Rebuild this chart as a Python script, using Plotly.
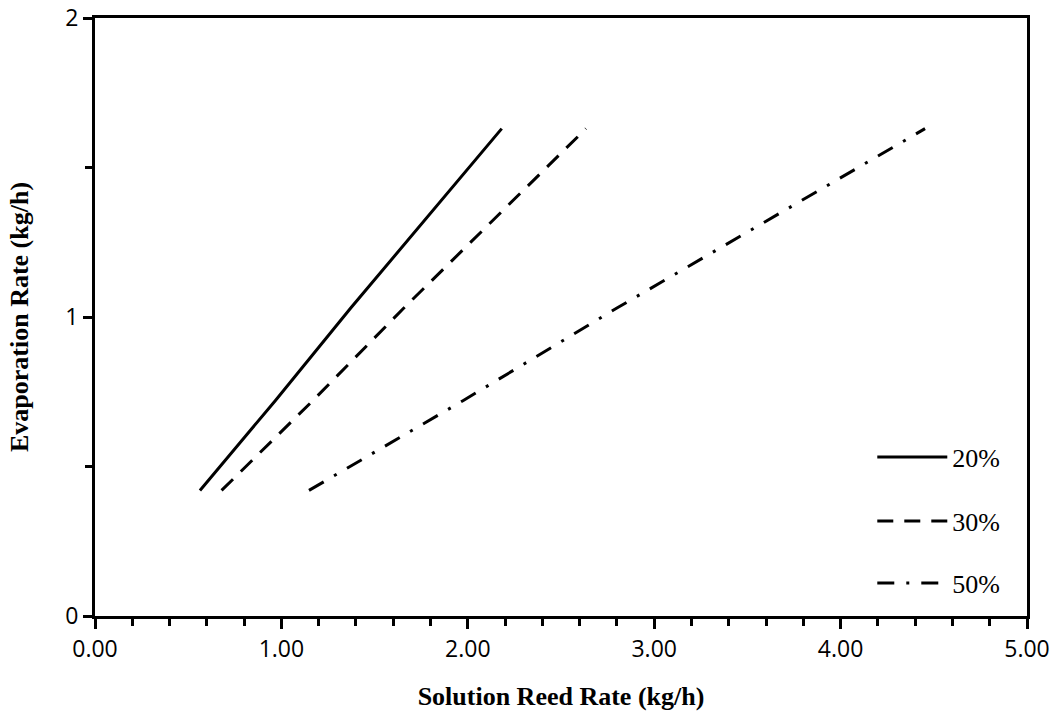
import plotly.graph_objects as go

# Data
evap = [0.42, 0.72, 1.03, 1.33, 1.63]                  # Evaporation rate (kg/h)
feed_20 = [0.563, 0.967, 1.372, 1.777, 2.182]          # 20%
feed_30 = [0.679, 1.168, 1.657, 2.145, 2.634]          # 30%
feed_50 = [1.148, 1.974, 2.800, 3.627, 4.453]          # 50%
series_names = ["20%", "30%", "50%"]

fig = go.Figure()

styles = [
    dict(color="black", width=3, dash="solid"),
    dict(color="black", width=3, dash="16px,11px"),
    dict(color="black", width=3, dash="17px,12px,3px,12px"),
]
feeds = [feed_20, feed_30, feed_50]
legends = ["legend", "legend2", "legend3"]

for name, fx, st, lg in zip(series_names, feeds, styles, legends):
    fig.add_trace(go.Scatter(
        x=fx, y=evap, mode="lines", name=name, line=st,
        legend=lg, showlegend=True,
    ))

leg_common = dict(
    font=dict(family="Liberation Serif", size=26, color="black"),
    bgcolor="rgba(0,0,0,0)", xanchor="left", yanchor="middle",
    itemwidth=70, x=0.834,
)

def ly(py):
    return (616 - py) / 598

fig.update_layout(
    width=1055, height=721,
    margin=dict(l=95, r=28, t=18, b=105),
    paper_bgcolor="white", plot_bgcolor="white",
    legend=dict(**leg_common, y=ly(457)),
    legend2=dict(**leg_common, y=ly(521)),
    legend3=dict(**leg_common, y=ly(583)),
    xaxis=dict(
        range=[0, 5], dtick=1, tick0=0, tickformat=".2f", automargin=False,
        showgrid=False, zeroline=False,
        showline=True, linecolor="black", linewidth=3, mirror=True,
        ticks="outside", ticklen=10, tickwidth=2.5, tickcolor="black",
        minor=dict(dtick=0.2, ticks="outside", ticklen=7, tickwidth=2.5, tickcolor="black"),
        tickfont=dict(family="Open Sans", size=23, color="black"),
        title=dict(text="<b>Solution Reed Rate (kg/h)</b>", standoff=25,
                   font=dict(family="Liberation Serif", size=26, color="black")),
    ),
    yaxis=dict(
        range=[0, 2], dtick=1, tick0=0, automargin=False,
        showgrid=False, zeroline=False,
        showline=True, linecolor="black", linewidth=3, mirror=True,
        ticks="outside", ticklen=9, tickwidth=2.5, tickcolor="black",
        minor=dict(dtick=0.5, ticks="outside", ticklen=7, tickwidth=2.5, tickcolor="black"),
        tickfont=dict(family="Open Sans", size=23, color="black"),
        title=dict(text="<b>Evaporation Rate (kg/h)</b>", standoff=30,
                   font=dict(family="Liberation Serif", size=26, color="black")),
    ),
)

fig.write_html("out.html")
